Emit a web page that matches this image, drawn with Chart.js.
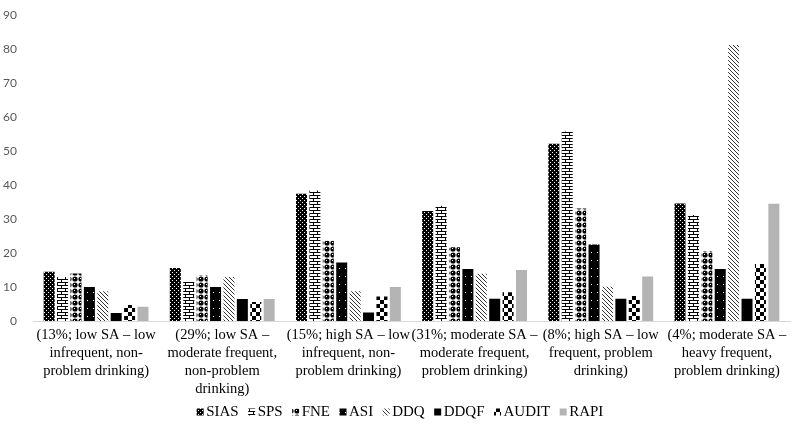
<!DOCTYPE html>
<html>
<head>
<meta charset="utf-8">
<script src="https://cdn.jsdelivr.net/npm/chart.js@4/dist/chart.umd.min.js"></script>
<style>
  body { margin: 0; background: #fff; }
</style>
</head>
<body>
<canvas id="barChart" width="800" height="434"></canvas>
<script>
// CLUSTER LABELS (X AXIS), EACH ONE SPLIT INTO LINES
const clusterLabels = [
    ['(13%; low SA \u2013 low', 'infrequent, non-', 'problem drinking)'],
    ['(29%; low SA \u2013', 'moderate frequent,', 'non-problem', 'drinking)'],
    ['(15%; high SA \u2013 low', 'infrequent, non-', 'problem drinking)'],
    ['(31%; moderate SA \u2013', 'moderate frequent,', 'problem drinking)'],
    ['(8%; high SA \u2013 low', 'frequent, problem', 'drinking)'],
    ['(4%; moderate SA \u2013', 'heavy frequent,', 'problem drinking)']
];

// SERIES VALUES
const siasValues  = [14.5, 15.6, 37.5, 32.4, 52.2, 34.6];
const spsValues   = [13.0, 11.5, 38.4, 33.9, 55.8, 31.2];
const fneValues   = [14.0, 13.5, 23.6, 21.7, 33.1, 20.6];
const asiValues   = [10.0, 10.0, 17.2, 15.3, 22.5, 15.3];
const ddqValues   = [8.8, 13.0, 8.8, 13.9, 10.1, 81.2];
const ddqfValues  = [2.4, 6.5, 2.5, 6.6, 6.6, 6.6];
const auditValues = [4.7, 5.6, 7.2, 8.5, 7.4, 16.8];
const rapiValues  = [4.2, 6.5, 10.0, 15.0, 13.1, 34.5];

const yTicks = [0, 10, 20, 30, 40, 50, 60, 70, 80, 90];

// BUILD A SMALL FILL PATTERN
function makePattern(kind) {
    const c = document.createElement('canvas');
    const g = c.getContext('2d');
    if (kind == 'sias') {
        c.width = 4; c.height = 4;
        g.fillStyle = '#000'; g.fillRect(0, 0, 4, 4);
        g.fillStyle = '#fff';
        g.fillRect(0, 0, 1, 1);
        g.fillRect(2, 2, 1, 1);
    } else if (kind == 'sps') {
        c.width = 8; c.height = 6;
        g.fillStyle = '#fff'; g.fillRect(0, 0, 8, 6);
        g.fillStyle = '#000';
        g.fillRect(0, 0, 8, 1);
        g.fillRect(0, 3, 8, 1);
        g.fillRect(1, 0, 1, 3);
        g.fillRect(5, 3, 1, 3);
    } else if (kind == 'fne') {
        c.width = 6; c.height = 6;
        g.fillStyle = '#fff'; g.fillRect(0, 0, 6, 6);
        g.fillStyle = '#000';
        g.beginPath(); g.arc(3, 3, 2.6, 0, Math.PI * 2); g.fill();
        g.fillStyle = '#fff';
        g.fillRect(2, 2, 1, 1);
    } else if (kind == 'asi') {
        c.width = 6; c.height = 8;
        g.fillStyle = '#000'; g.fillRect(0, 0, 6, 8);
        g.fillStyle = '#fff';
        g.fillRect(3, 4, 1, 1);
    } else if (kind == 'ddq') {
        c.width = 4; c.height = 4;
        g.fillStyle = '#fff'; g.fillRect(0, 0, 4, 4);
        g.strokeStyle = '#333'; g.lineWidth = 1;
        g.beginPath();
        g.moveTo(-1, -1); g.lineTo(5, 5);
        g.moveTo(-1, 3); g.lineTo(1, 5);
        g.moveTo(3, -1); g.lineTo(5, 1);
        g.stroke();
    } else if (kind == 'audit') {
        c.width = 8; c.height = 8;
        g.fillStyle = '#fff'; g.fillRect(0, 0, 8, 8);
        g.fillStyle = '#000';
        g.fillRect(0, 0, 4, 4);
        g.fillRect(4, 4, 4, 4);
    }
    return g.createPattern(c, 'repeat');
}

const ctx = document.getElementById('barChart').getContext('2d');

const seriesList = [
    { label: 'SIAS', data: siasValues, fill: makePattern('sias') },
    { label: 'SPS', data: spsValues, fill: makePattern('sps') },
    { label: 'FNE', data: fneValues, fill: makePattern('fne') },
    { label: 'ASI', data: asiValues, fill: makePattern('asi') },
    { label: 'DDQ', data: ddqValues, fill: makePattern('ddq') },
    { label: 'DDQF', data: ddqfValues, fill: '#000000' },
    { label: 'AUDIT', data: auditValues, fill: makePattern('audit') },
    { label: 'RAPI', data: rapiValues, fill: '#b4b4b4' }
];

const serifFont = '"Liberation Serif", "Times New Roman", serif';

// LEGEND DRAWN BY HAND: TIGHT BOX-TO-TEXT GAP LIKE THE ORIGINAL
const bottomLegend = {
    id: 'bottomLegend',
    afterDraw(chart) {
        const c = chart.ctx;
        const box = 7, boxGap = 2.5, itemGap = 9.5, y = 412;
        c.save();
        c.font = '15px ' + serifFont;
        c.textBaseline = 'middle';
        const items = chart.data.datasets.map(d => ({
            label: d.label, fill: d.backgroundColor, w: c.measureText(d.label).width
        }));
        let total = 0;
        items.forEach(it => { total += box + boxGap + it.w; });
        total += itemGap * (items.length - 1);
        let x = (chart.width - total) / 2;
        items.forEach(it => {
            c.fillStyle = it.fill;
            c.fillRect(x, y - box / 2, box, box);
            x += box + boxGap;
            c.fillStyle = '#000';
            c.fillText(it.label, x, y);
            x += it.w + itemGap;
        });
        c.restore();
    }
};

const barChart = new Chart(ctx, {
    type: 'bar',
    data: {
        labels: clusterLabels,
        datasets: seriesList.map(s => ({
            label: s.label,
            data: s.data,
            backgroundColor: s.fill,
            borderWidth: 0,
            categoryPercentage: 0.85,
            barPercentage: 0.82
        }))
    },
    options: {
        responsive: false,
        animation: false,
        layout: { padding: { top: 10, right: 10, left: 0, bottom: 31 } },
        plugins: {
            tooltip: { enabled: false },
            legend: { display: false }
        },
        scales: {
            x: {
                grid: { display: false, drawTicks: false },
                border: { color: '#d9d9d9', width: 1 },
                ticks: {
                    color: '#000',
                    maxRotation: 0,
                    autoSkip: false,
                    padding: 5,
                    font: { family: serifFont, size: 14.5, lineHeight: 1.24 }
                }
            },
            y: {
                min: 0,
                max: 90,
                grid: { display: false },
                border: { display: false },
                afterFit: (scale) => { scale.width = 33; },
                afterBuildTicks: (scale) => { scale.ticks = yTicks.map(v => ({ value: v })); },
                ticks: {
                    color: '#595959',
                    padding: 8,
                    font: { family: 'Lato, "Open Sans", sans-serif', size: 12 }
                }
            }
        }
    },
    plugins: [bottomLegend]
});
</script>
</body>
</html>
